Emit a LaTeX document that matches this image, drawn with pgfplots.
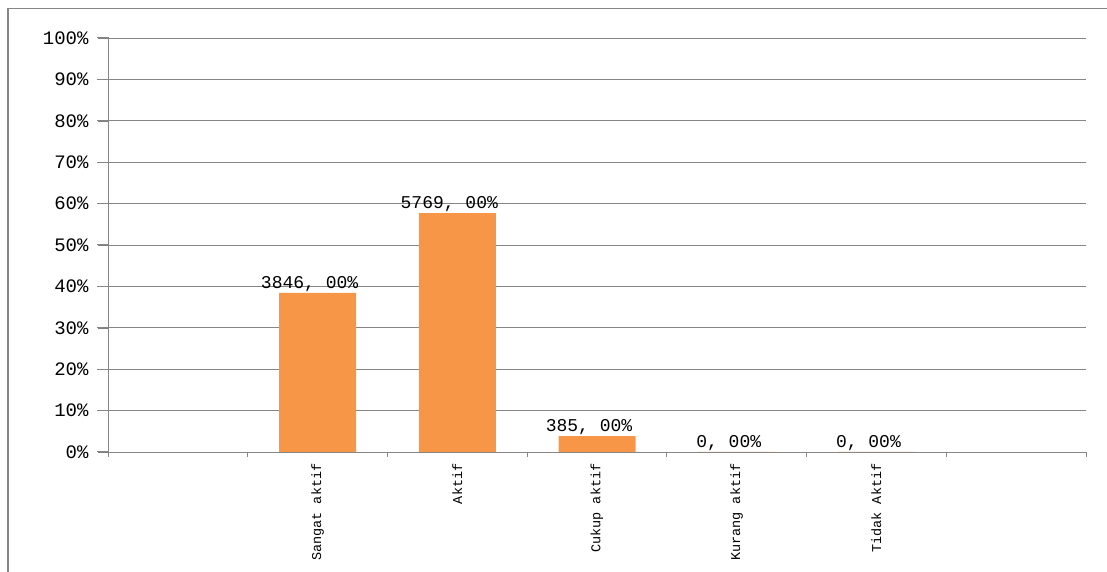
\documentclass[border=0pt]{standalone}
\usepackage{fontspec}
\setmainfont{Liberation Mono}
\usepackage{pgfplots}
\usepackage{pgfplotstable}
\pgfplotsset{compat=1.18}
\definecolor{barorange}{HTML}{F79646}
\definecolor{gridgray}{HTML}{868686}
\pgfplotstableread[col sep=semicolon]{
x;y;lab
1.5;38.46;{3846, 00\%}
2.5;57.69;{5769, 00\%}
3.5;3.85;{385, 00\%}
4.5;0;{0, 00\%}
5.5;0;{0, 00\%}
}\datatable
\begin{document}
\begin{tikzpicture}[x=1pt,y=1pt]
\useasboundingbox (0,0) rectangle (1107,572);
\draw[gridgray, line width=1.2pt] (8,0) -- (8,563.5) -- (1107,563.5);
\begin{axis}[
  at={(108pt,120pt)}, anchor=south west,
  scale only axis, width=978pt, height=414pt,
  xmin=0, xmax=7, ymin=0, ymax=100,
  axis x line*=bottom, axis y line*=left,
  axis line style={gridgray, line width=0.9pt},
  ytick={0,10,...,100},
  yticklabels={0\%,10\%,20\%,30\%,40\%,50\%,60\%,70\%,80\%,90\%,100\%},
  ymajorgrids, grid style={gridgray, line width=0.9pt},
  tick align=outside, major tick length=10pt,
  xtick={1.5,2.5,3.5,4.5,5.5},
  xticklabels={Sangat aktif,Aktif,Cukup aktif,Kurang aktif,Tidak Aktif},
  major x tick style={draw=none},
  minor xtick={0,1,...,7},
  minor tick length=5pt,
  minor x tick style={gridgray, line width=0.9pt, draw=gridgray},
  x tick label style={rotate=90, anchor=east, font=\fontsize{13.5}{13.5}\selectfont},
  xticklabel shift=-2pt,
  y tick label style={font=\fontsize{19}{19}\selectfont},
  yticklabel shift=6pt,
  /pgf/number format/assume math mode=true,
  ybar, bar width=77pt,
  clip=false,
  nodes near coords,
  point meta=explicit symbolic,
  every node near coord/.append style={font=\fontsize{18}{18}\selectfont, anchor=south, xshift=-8pt, yshift=-2pt},
]
\addplot[fill=barorange, draw=none] table[x=x, y=y, meta=lab, col sep=semicolon] {\datatable};
\end{axis}
\foreach \i in {0,...,10} {
  \draw[gridgray, line width=1pt] (97,{120+41.4*\i}) -- (108.5,{120+41.4*\i});
}
\end{tikzpicture}
\end{document}
